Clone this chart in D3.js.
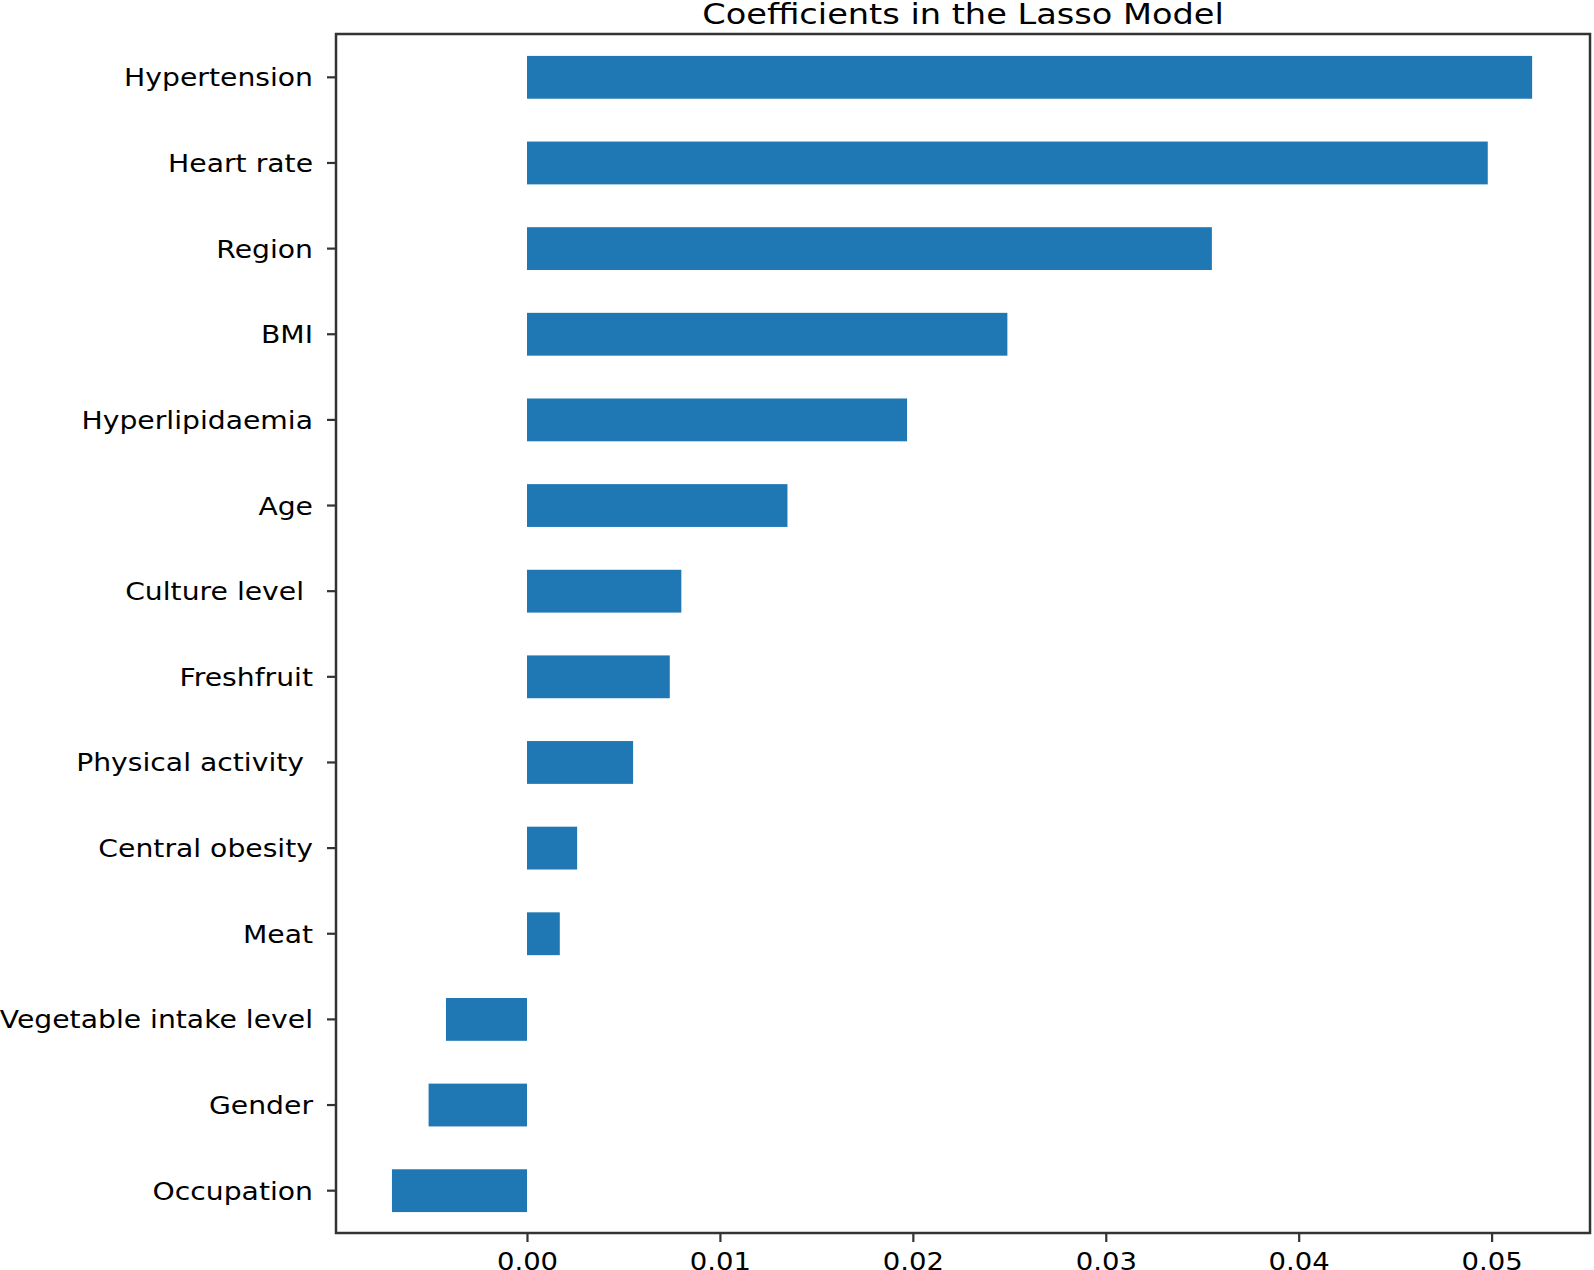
<!DOCTYPE html>
<html>
<head>
<meta charset="utf-8">
<script src="https://cdn.jsdelivr.net/npm/d3@7"></script>
<style>
  html, body { margin: 0; padding: 0; background: #fff; }
  svg { display: block; }
  text { font-family: "DejaVu Sans", sans-serif; white-space: pre; }
</style>
</head>
<body>
<svg id="chart" width="1594" height="1270"></svg>
<script>
// Data (top to bottom as drawn)
const categories = [
  "Hypertension", "Heart rate", "Region", "BMI", "Hyperlipidaemia", "Age",
  "Culture level ", "Freshfruit", "Physical activity ", "Central obesity",
  "Meat", "Vegetable intake level", "Gender", "Occupation"
];
const coefficients = [
  0.0521, 0.0498, 0.0355, 0.0249, 0.0197, 0.0135,
  0.0080, 0.0074, 0.0055, 0.0026,
  0.0017, -0.0042, -0.0051, -0.0070
];
const xTickValues = [0.00, 0.01, 0.02, 0.03, 0.04, 0.05];
const xLimits = [-0.0099, 0.0551];
const titleText = "Coefficients in the Lasso Model";

const svg = d3.select("#chart");
const frame = { left: 336, right: 1590, top: 34, bottom: 1233 };

const x = d3.scaleLinear()
  .domain(xLimits)
  .range([frame.left, frame.right]);

const y = d3.scaleBand()
  .domain(categories)
  .range([frame.top + 0.5, frame.bottom + 0.5])
  .paddingInner(0.5)
  .paddingOuter(0.25);

// bars
svg.append("g").selectAll("rect")
  .data(categories.map((c, i) => ({ c, v: coefficients[i] })))
  .join("rect")
  .attr("x", d => x(Math.min(0, d.v)))
  .attr("y", d => y(d.c))
  .attr("width", d => Math.abs(x(d.v) - x(0)))
  .attr("height", y.bandwidth())
  .attr("fill", "#1f77b4");

// y axis
const yAxis = svg.append("g")
  .attr("transform", `translate(${frame.left},0)`)
  .call(d3.axisLeft(y).tickSize(9).tickPadding(0));
yAxis.select(".domain").remove();
yAxis.selectAll(".tick line").attr("stroke", "#333").attr("stroke-width", 2.2);
yAxis.selectAll(".tick text")
  .attr("x", 0)
  .attr("dy", "0.36em")
  .attr("font-size", 25)
  .attr("fill", "#000")
  .attr("transform", "translate(-23,0) scale(1.13,1)");

// x axis
const xAxis = svg.append("g")
  .attr("transform", `translate(0,${frame.bottom})`)
  .call(d3.axisBottom(x).tickValues(xTickValues).tickFormat(d3.format(".2f")).tickSize(9).tickPadding(10));
xAxis.select(".domain").remove();
xAxis.selectAll(".tick line").attr("stroke", "#333").attr("stroke-width", 2.2);
xAxis.selectAll(".tick text")
  .attr("font-size", 25)
  .attr("fill", "#000")
  .attr("transform", "scale(1.1,1)");

// frame
svg.append("rect")
  .attr("x", frame.left).attr("y", frame.top)
  .attr("width", frame.right - frame.left)
  .attr("height", frame.bottom - frame.top)
  .attr("fill", "none")
  .attr("stroke", "#333")
  .attr("stroke-width", 2.5);

// title
svg.append("text")
  .attr("x", 0).attr("y", 0)
  .attr("transform", `translate(${(frame.left + frame.right) / 2},24) scale(1.2,1)`)
  .attr("text-anchor", "middle")
  .attr("font-size", 28)
  .attr("fill", "#000")
  .text(titleText);
</script>
</body>
</html>
